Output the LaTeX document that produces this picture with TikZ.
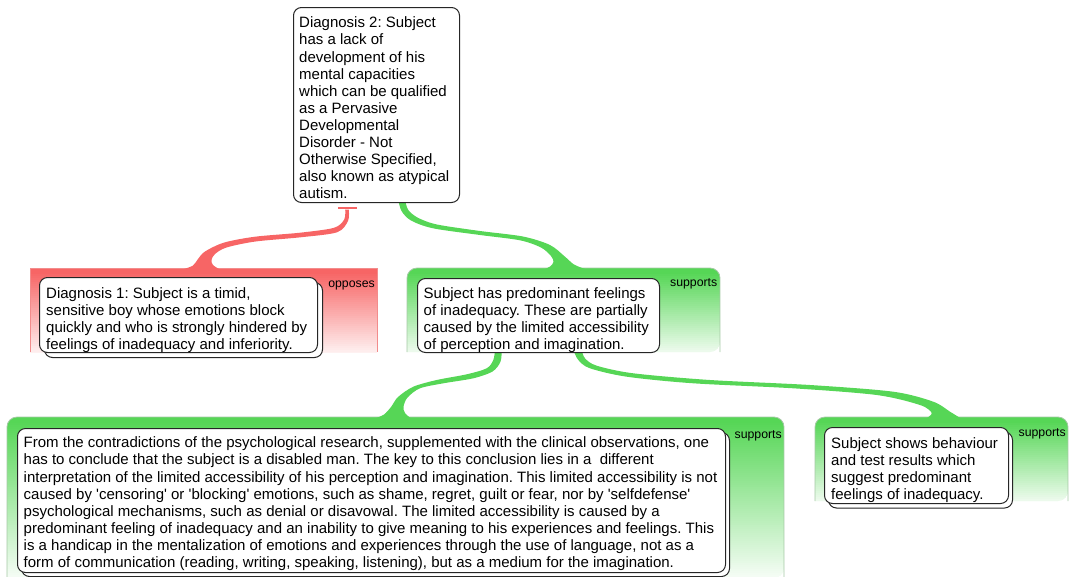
\documentclass[tikz,border=0pt]{standalone}
\usepackage{fontspec}
\setmainfont{Liberation Sans}
\usetikzlibrary{calc}
\newcommand{\sq}{\textquotesingle}
\definecolor{opp}{RGB}{247,101,101}
\definecolor{oppedge}{RGB}{242,140,140}
\definecolor{sup}{RGB}{86,214,86}
\definecolor{supedge}{RGB}{165,200,165}
% #1 x1, #2 ytop, #3 x2, #4 ybottom, #5 colour, #6 fade span
\newcommand{\gradbox}[6]{%
  \pgfmathtruncatemacro\gN{ceil((#4-#2)/2)}%
  \foreach \gi in {0,...,\gN}{%
    \pgfmathsetmacro\gf{max(0,min(100,100*(1-(\gi*2-4)/(#6))))}%
    \fill[#5!\gf!white] (#1,{#2+\gi*2}) rectangle (#3,{#2+\gi*2+2.6});
  }}
\begin{document}
\frenchspacing
\begin{tikzpicture}[x=1pt,y=-1pt,
  card/.style={draw=black!85, line width=1pt, fill=white, rounded corners=8pt, inner sep=0pt, anchor=north west},
  txt/.style={align=left, inner sep=0pt, anchor=north west, font=\fontsize{15}{17.1}\selectfont},
  rel/.style={inner sep=0pt, anchor=base east, font=\fontsize{12.3}{14}\selectfont},
]
\useasboundingbox (0,0) rectangle (1070,576);

% ---------- frames ----------
\begin{scope}
  \clip (30,268) rectangle (377,352);
  \gradbox{30}{268}{377}{352}{opp}{88}
\end{scope}
\draw[oppedge, line width=0.8pt] (30,352) -- (30,268) -- (377,268) -- (377,352);

\begin{scope}
  \clip[rounded corners=10pt] (407,352) -- (407,268) -- (720,268) -- (720,352) [sharp corners] -- cycle;
  \gradbox{407}{268}{720}{352}{sup}{88}
\end{scope}
\draw[supedge, line width=0.8pt, rounded corners=10pt] (407,352) -- (407,268) -- (720,268) -- (720,352);

\begin{scope}
  \clip[rounded corners=10pt] (7,578) -- (7,417) -- (784,417) -- (784,578) [sharp corners] -- cycle;
  \gradbox{7}{417}{784}{578}{sup}{165}
\end{scope}
\draw[supedge, line width=0.8pt, rounded corners=10pt] (7,578) -- (7,417) -- (784,417) -- (784,578);

\begin{scope}
  \clip[rounded corners=10pt] (815,501) -- (815,417) -- (1068,417) -- (1068,501) [sharp corners] -- cycle;
  \gradbox{815}{417}{1068}{501}{sup}{88}
\end{scope}
\draw[supedge, line width=0.8pt, rounded corners=10pt] (815,501) -- (815,417) -- (1068,417) -- (1068,501);

% ---------- ribbons ----------
\draw[opp, line width=1.5pt] (338,208) -- (357,208);
\fill[opp] plot[smooth, tension=0.5] coordinates {(184,269) (193,265.5) (198,259) (205,251.5) (224,242.6) (255,236.7) (300,232.7) (334,227.8) (344.2,219.5) (345.2,209.5)}
  -- plot[smooth, tension=0.5] coordinates {(348.8,209.5) (348,221) (337,232.3) (300.5,237.3) (255.5,241.5) (226.5,247.5) (215,254) (211.5,260) (213,265) (219,269)} -- cycle;

\fill[sup] plot[smooth, tension=0.5] coordinates {(545,269) (550,266.5) (553.5,262) (551,256) (541,247.5) (520,240.3) (480,235) (433,228.3) (411,220.5) (401.5,211) (398.3,200)}
  -- plot[smooth, tension=0.5] coordinates {(405,200) (408.3,210) (418,217.8) (437,224.5) (480,231) (523,236.5) (550,245) (565,256.7) (574,264.5) (585,269)} -- cycle;

\fill[sup] plot[smooth, tension=0.5] coordinates {(375,418.5) (384,414.5) (391,407) (398,397) (413.3,386.7) (436.7,380) (466.7,374.3) (486.7,368.3) (493.3,360) (495,350)}
  -- plot[smooth, tension=0.5] coordinates {(501.7,350) (500.5,361.7) (492.5,371.5) (473.3,378.3) (443.3,383.3) (420,388.3) (407.5,397.5) (403.5,406.7) (405,413) (411,418.5)} -- cycle;

\fill[sup] plot[smooth, tension=0.5] coordinates {(926,418.5) (931.7,413) (920,405) (876.7,395) (793.3,388.3) (693.3,383.3) (626.7,376.7) (590,368.3) (578.3,360) (573.3,350)}
  -- plot[smooth, tension=0.5] coordinates {(581.7,350) (585,358.3) (596.7,365.7) (633.3,373.3) (710,380) (810,385) (893.3,391.7) (933.3,401.7) (950,411.7) (961,418.5)} -- cycle;

% ---------- cards ----------
\node[card, minimum width=166, minimum height=195] (d2) at (293,7) {};

\node[card, minimum width=278, minimum height=75] (d1s) at (44,282) {};
\node[card, minimum width=278, minimum height=75] (d1) at (39,277) {};

\node[card, minimum width=242, minimum height=74] (s1) at (417,278) {};

\node[card, minimum width=708, minimum height=144] (b1s) at (21,432) {};
\node[card, minimum width=708, minimum height=144] (b1) at (17,428) {};

\node[card, minimum width=184, minimum height=76] (b2s) at (828,431.5) {};
\node[card, minimum width=184, minimum height=76] (b2) at (824,427) {};

% ---------- texts ----------
\node[txt] (d2t) at (299,16.8) {Diagnosis 2: Subject\\has a lack of\\development of his\\mental capacities\\which can be qualified\\as a Pervasive\\Developmental\\Disorder - Not\\Otherwise Specified,\\also known as atypical\\autism.};

\node[txt] (d1t) at (46,287.4) {Diagnosis 1: Subject is a timid,\\sensitive boy whose emotions block\\quickly and who is strongly hindered by\\feelings of inadequacy and inferiority.};

\node[txt] (s1t) at (423.5,287.4) {Subject has predominant feelings\\of inadequacy. These are partially\\caused by the limited accessibility\\of perception and imagination.};

\node[txt] (b1t) at (23.5,436.8) {From the contradictions of the psychological research, supplemented with the clinical observations, one\\has to conclude that the subject is a disabled man. The key to this conclusion lies in a~ different\\interpretation of the limited accessibility of his perception and imagination. This limited accessibility is not\\caused by \sq censoring\sq\ or \sq blocking\sq\ emotions, such as shame, regret, guilt or fear, nor by \sq selfdefense\sq\\psychological mechanisms, such as denial or disavowal. The limited accessibility is caused by a\\predominant feeling of inadequacy and an inability to give meaning to his experiences and feelings. This\\is a handicap in the mentalization of emotions and experiences through the use of language, not as a\\form of communication (reading, writing, speaking, listening), but as a medium for the imagination.};

\node[txt] (b2t) at (831,437.4) {Subject shows behaviour\\and test results which\\suggest predominant\\feelings of inadequacy.};

% ---------- relation labels ----------
\node[rel] (l1) at (375,287.5) {opposes};
\node[rel] (l2) at (717.5,286.7) {supports};
\node[rel] (l3) at (782,438.3) {supports};
\node[rel] (l4) at (1066,436.7) {supports};
\end{tikzpicture}
\end{document}
